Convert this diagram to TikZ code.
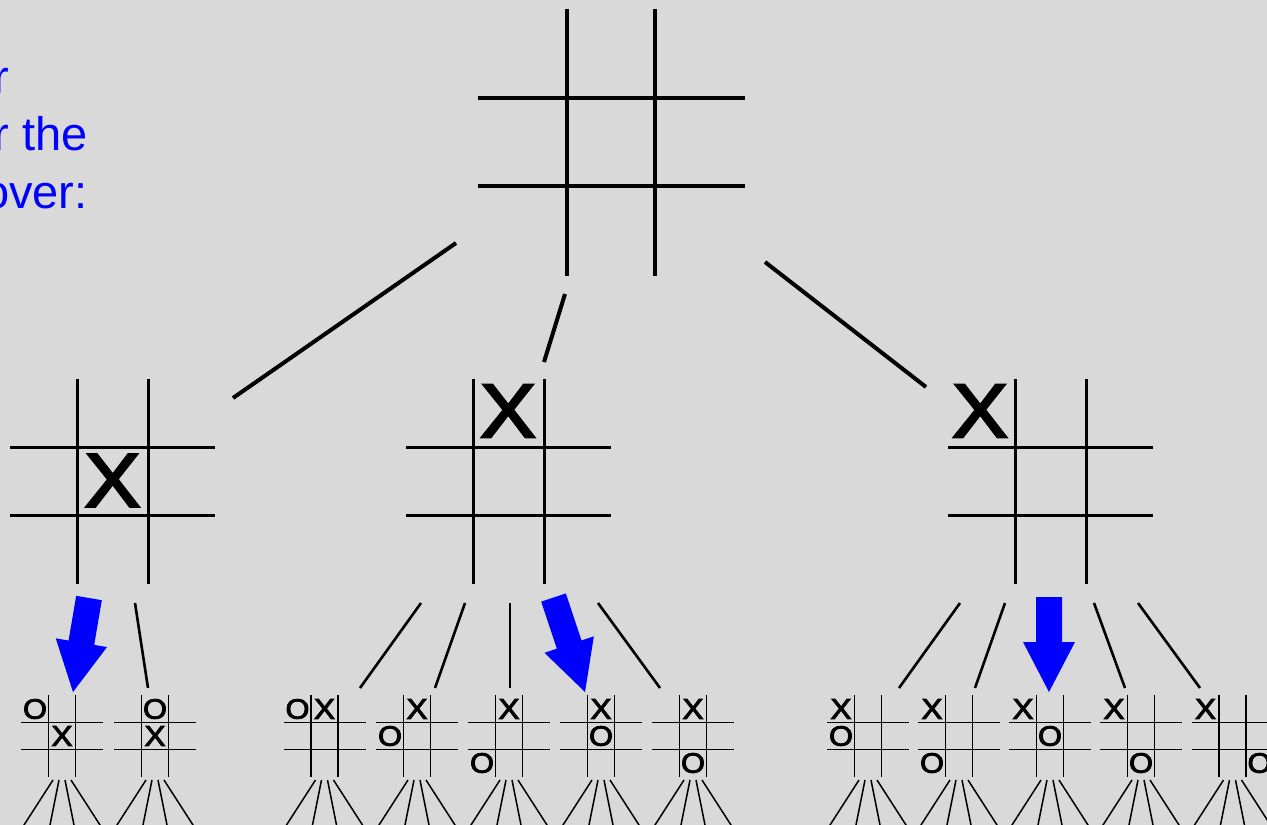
\documentclass[tikz,border=0pt]{standalone}
\usepackage{fontspec}
\setmainfont{Liberation Sans}
\newfontfamily\markfont[FakeBold=3]{Liberation Sans}
\usetikzlibrary{calc}

\definecolor{paper}{RGB}{217,217,217}
\definecolor{hintblue}{RGB}{0,0,255}

\tikzset{
  branch/.style={line width=4pt},
  twig/.style={line width=2.6pt},
  fan/.style={line width=1.5pt},
  gamemark/.style={inner sep=0pt, xscale=1.1},
  hint/.style={text=hintblue, inner sep=0pt, anchor=base west,
               font=\fontsize{47}{47}\selectfont},
}

% noughts-and-crosses grid: centre x, centre y, cell width, cell height, half extent, line width
\newcommand{\tttgrid}[6]{%
  \draw[line width=#6]
    ({#1-#3/2},{#2-#5}) -- ({#1-#3/2},{#2+#5})
    ({#1+#3/2},{#2-#5}) -- ({#1+#3/2},{#2+#5})
    ({#1-#5},{#2-#4/2}) -- ({#1+#5},{#2-#4/2})
    ({#1-#5},{#2+#4/2}) -- ({#1+#5},{#2+#4/2});}

% a mark: name, x, y, glyph, font size
\newcommand{\tttmark}[5]{%
  \node[gamemark, font=\markfont\fontsize{#5}{#5}\selectfont] (#1) at (#2,#3) {#4};}

% a small board of the third level with its fan of further moves:
% name, centre x, X column, X row, O column, O row
\newcommand{\leafboard}[6]{%
  \tttgrid{#2}{736}{27}{27}{41}{1.6pt}
  \tttmark{#1-x}{{#2+27*#3}}{{736+27*#4}}{X}{29}
  \tttmark{#1-o}{{#2+27*#5}}{{736+27*#6}}{O}{28}
  \foreach \d/\D in {-9/-38,-3/-12,3/12,9/38}
    \draw[fan] ({#2+\d},780) -- ({#2+\d+(\D-\d)*1.3},{780+45*1.3});}

% broad blue arrow from a start coordinate to a tip coordinate
\newcommand{\bluearrow}[2]{%
  \fill[hintblue]
    ($(#1)!13pt!90:(#2)$) --
    ($(#2)!50pt!(#1)!13pt!-90:(#1)$) --
    ($(#2)!50pt!(#1)!26pt!-90:(#1)$) --
    (#2) --
    ($(#2)!50pt!(#1)!26pt!90:(#1)$) --
    ($(#2)!50pt!(#1)!13pt!90:(#1)$) --
    ($(#1)!13pt!-90:(#2)$) -- cycle;}

\begin{document}
\begin{tikzpicture}[x=1pt,y=-1pt]
  \useasboundingbox (0,0) rectangle (1267,825);
  \fill[paper] (0,0) rectangle (1267,825);
  \begin{scope}
    \clip (0,0) rectangle (1267,825);

    % caption fragment
    \node[hint] (cap1) at (-6.5,93)   {r};
    \node[hint] (cap2) at (-6.5,150.5) {r the};
    \node[hint] (cap3) at (-17,208) {over:};

    % root board
    \tttgrid{611}{142}{88}{88}{133.5}{4pt}

    % second level
    \tttgrid{112.5}{481}{71}{68}{102.5}{3pt}
    \tttmark{m1-x}{112.5}{480.5}{X}{76}
    \tttgrid{508.5}{481}{71}{68}{102.5}{3pt}
    \tttmark{m2-x}{508}{411}{X}{76}
    \tttgrid{1050.5}{481}{71}{68}{102.5}{3pt}
    \tttmark{m3-x}{980}{411}{X}{76}

    % branches from the root
    \coordinate (r-a) at (456,243);   \coordinate (m1-top) at (233,398);
    \coordinate (r-b) at (565,294);   \coordinate (m2-top) at (544,362);
    \coordinate (r-c) at (765,262);   \coordinate (m3-top) at (926,387);
    \draw[branch] (r-a) -- (m1-top);
    \draw[branch] (r-b) -- (m2-top);
    \draw[branch] (r-c) -- (m3-top);

    % third level
    \leafboard{l1}{62}{0}{0}{-1}{-1}
    \leafboard{l2}{155}{0}{0}{0}{-1}
    \leafboard{l3}{324.5}{0}{-1}{-1}{-1}
    \leafboard{l4}{417}{0}{-1}{-1}{0}
    \leafboard{l5}{509}{0}{-1}{-1}{1}
    \leafboard{l6}{601}{0}{-1}{0}{0}
    \leafboard{l7}{693}{0}{-1}{0}{1}
    \leafboard{l8}{868}{-1}{-1}{-1}{0}
    \leafboard{l9}{959}{-1}{-1}{-1}{1}
    \leafboard{l10}{1050}{-1}{-1}{0}{0}
    \leafboard{l11}{1141}{-1}{-1}{0}{1}
    \leafboard{l12}{1232.5}{-1}{-1}{1}{1}

    % branches from the second level
    \coordinate (m1-a) at (89,598);    \coordinate (l1-top) at (73,692);
    \coordinate (m1-b) at (135,603);   \coordinate (l2-top) at (148,688);
    \coordinate (m2-a) at (421,603);   \coordinate (l3-top) at (360,688);
    \coordinate (m2-b) at (465,603);   \coordinate (l4-top) at (435,688);
    \coordinate (m2-c) at (510,603);   \coordinate (l5-top) at (510,688);
    \coordinate (m2-d) at (553.5,597.5); \coordinate (l6-top) at (585,692);
    \coordinate (m2-e) at (598,603);   \coordinate (l7-top) at (660,688);
    \coordinate (m3-a) at (960,603);   \coordinate (l8-top) at (899,688);
    \coordinate (m3-b) at (1005,603);  \coordinate (l9-top) at (975,688);
    \coordinate (m3-c) at (1049,597);  \coordinate (l10-top) at (1049,692);
    \coordinate (m3-d) at (1094,603);  \coordinate (l11-top) at (1125,688);
    \coordinate (m3-e) at (1138,603);  \coordinate (l12-top) at (1200,688);

    \bluearrow{m1-a}{l1-top}
    \draw[twig] (m1-b) -- (l2-top);
    \draw[twig] (m2-a) -- (l3-top);
    \draw[twig] (m2-b) -- (l4-top);
    \draw[twig] (m2-c) -- (l5-top);
    \bluearrow{m2-d}{l6-top}
    \draw[twig] (m2-e) -- (l7-top);
    \draw[twig] (m3-a) -- (l8-top);
    \draw[twig] (m3-b) -- (l9-top);
    \bluearrow{m3-c}{l10-top}
    \draw[twig] (m3-d) -- (l11-top);
    \draw[twig] (m3-e) -- (l12-top);
  \end{scope}
\end{tikzpicture}
\end{document}
